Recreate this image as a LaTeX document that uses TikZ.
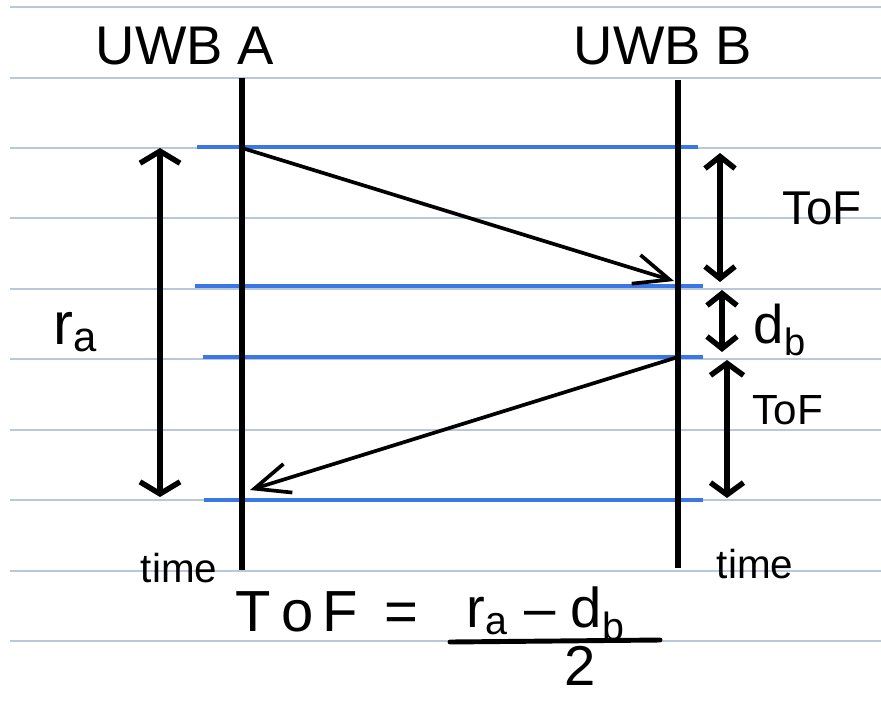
\documentclass[tikz,border=0pt]{standalone}
\usepackage{fontspec}
\setmainfont{Liberation Sans}
\usetikzlibrary{arrows.meta}

\definecolor{cinzapauta}{HTML}{BAC6DA}
\definecolor{azulmarca}{HTML}{3A76E6}

\begin{document}
\begin{tikzpicture}[x=0.02cm, y=-0.02cm,
    linhapauta/.style={cinzapauta, line width=1.1pt},
    linhatempo/.style={black, line width=3.4pt},
    marca/.style={azulmarca, line width=2.6pt},
    sinal/.style={-{Straight Barb[length=0.7cm, width=0.6cm]}, line width=2.1pt},
    cota/.style={{Straight Barb[length=0.24cm, width=#1]}-{Straight Barb[length=0.24cm, width=#1]}, line width=3.1pt},
    cota/.default=0.6cm,
    rotulo/.style={inner sep=0pt, font=\fontsize{#1}{#1}\selectfont},
    rotulo/.default=30pt]

        \useasboundingbox (0,0) rectangle (881,710);

        % Pauta do caderno
        \draw[linhapauta] (10,7) -- (881,7);
        \draw[linhapauta] (10,78) -- (881,78);
        \draw[linhapauta] (10,148) -- (881,148);
        \draw[linhapauta] (10,218) -- (881,218);
        \draw[linhapauta] (10,289) -- (881,289);
        \draw[linhapauta] (10,359) -- (881,359);
        \draw[linhapauta] (10,430) -- (881,430);
        \draw[linhapauta] (10,500) -- (881,500);
        \draw[linhapauta] (10,571) -- (881,571);
        \draw[linhapauta] (10,641) -- (881,641);

        % Eventos (linhas azuis)
        \draw[marca] (197,147) -- (698,147);
        \draw[marca] (195,286) -- (703,286);
        \draw[marca] (203,357) -- (703,357);
        \draw[marca] (204,500) -- (703,500);

        % Linhas do tempo
        \coordinate (topoA) at (242,78);
        \coordinate (baseA) at (242,570);
        \coordinate (topoB) at (678,80);
        \coordinate (baseB) at (678,568);
        \draw[linhatempo] (topoA) -- (baseA);
        \draw[linhatempo] (topoB) -- (baseB);

        % Mensagens
        \coordinate (envioA) at (242,148);
        \coordinate (chegaB) at (674,281);
        \coordinate (envioB) at (678,357);
        \coordinate (chegaA) at (250,490);
        \draw[sinal] (envioA) -- (chegaB);
        \draw[sinal] (envioB) -- (chegaA);

        % Intervalos
        \coordinate (raTopo) at (160,148);
        \coordinate (raBase) at (160,497);
        \draw[cota=0.8cm] (raTopo) -- (raBase);

        \coordinate (tofTopo) at (720,153);
        \coordinate (tofBase) at (720,282);
        \draw[cota] (tofTopo) -- (tofBase);

        \coordinate (dbTopo) at (722,290);
        \coordinate (dbBase) at (722,352);
        \draw[cota] (dbTopo) -- (dbBase);

        \coordinate (tofTopoB) at (727,360);
        \coordinate (tofBaseB) at (727,498);
        \draw[cota=0.66cm] (tofTopoB) -- (tofBaseB);

        % Nomes
        \node[rotulo=31pt] (uwbA) at (185,46) {UWB A};
        \node[rotulo=31pt] (uwbB) at (663,46) {UWB B};

        \node[rotulo=34pt] (ra) at (76,332) {r\textsubscript{a}};
        \node[rotulo=27pt] (tofUm) at (822,208) {ToF};
        \node[rotulo=31pt] (db) at (780,330) {d\textsubscript{b}};
        \node[rotulo=24pt] (tofDois) at (788,410) {ToF};

        \node[rotulo=23pt] (tempoA) at (179,568) {time};
        \node[rotulo=23pt] (tempoB) at (755,564) {time};

        % Formula
        \node[rotulo=33pt] (eqEsq) at (327,612) {T\,o\,F \,=};
        \node[rotulo=32pt] (eqNum) at (546,614) {r\textsubscript{a} – d\textsubscript{b}};
        \coordinate (barraE) at (450,642);
        \coordinate (barraD) at (660,640);
        \draw[line width=2.8pt, line cap=round] (barraE) -- (barraD);
        \node[rotulo=32pt] (eqDen) at (580,666) {2};
    \end{tikzpicture}
\end{document}
